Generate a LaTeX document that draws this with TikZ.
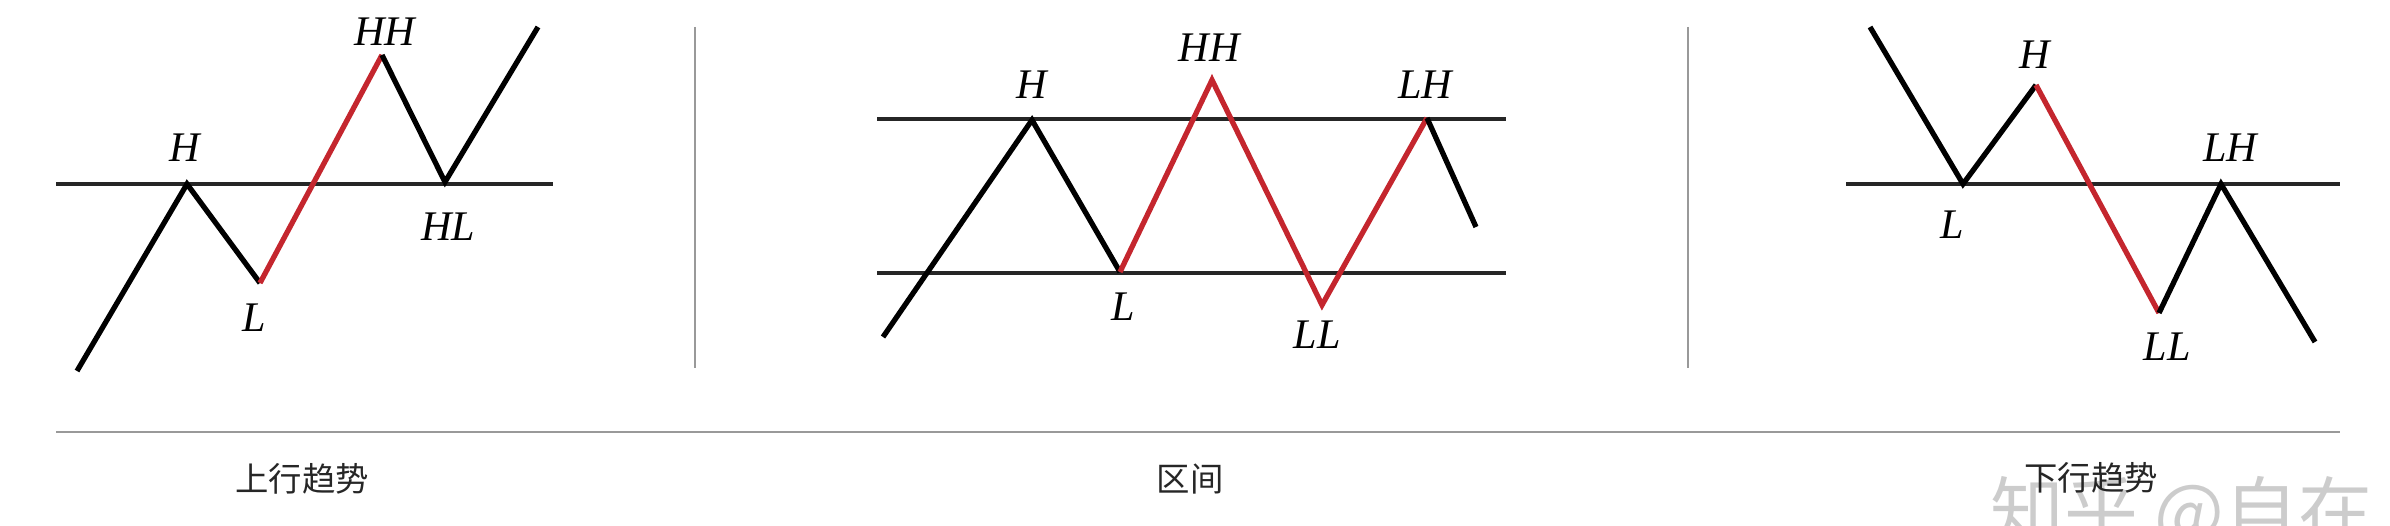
\documentclass[tikz,border=0pt]{standalone}
\usepackage{fontspec}
\newfontfamily\cjk{Noto Sans CJK SC}
\newfontfamily\labfont{Liberation Serif}
\definecolor{trendred}{HTML}{C4262E}
\begin{document}
\begin{tikzpicture}[x=0.02cm, y=-0.02cm,
    leg/.style={line width=3pt},
    redleg/.style={line width=3pt, draw=trendred},
    level/.style={line width=2pt, draw=black!85},
    sep/.style={line width=1.1pt, draw=black!40},
    lab/.style={font=\labfont\itshape\fontsize{24}{28}\selectfont},
    title/.style={font=\cjk\fontsize{19}{22}\selectfont, text=black!85}]
    \useasboundingbox (0,0) rectangle (2390,526);
    \clip (0,0) rectangle (2390,526);
    % watermark
    \node[anchor=west, inner sep=0, text=black!20, font=\cjk\fontsize{42}{46}\selectfont] (mark) at (1990,514) {知乎 @自在};
    % frame
    \coordinate (s1a) at (695,27); \coordinate (s1b) at (695,368);
    \coordinate (s2a) at (1688,27); \coordinate (s2b) at (1688,368);
    \coordinate (ba) at (56,432); \coordinate (bb) at (2340,432);
    \draw[sep] (s1a) -- (s1b);
    \draw[sep] (s2a) -- (s2b);
    \draw[sep] (ba) -- (bb);
    % uptrend
    \coordinate (ulA) at (56,184); \coordinate (ulB) at (553,184);
    \coordinate (u0) at (77,371); \coordinate (uH) at (187,184); \coordinate (uL) at (260,283);
    \coordinate (uHH) at (382,55); \coordinate (uHL) at (445,182); \coordinate (u5) at (538,27);
    \draw[level] (ulA) -- (ulB);
    \draw[leg] (u0) -- (uH) -- (uL);
    \draw[redleg] (uL) -- (uHH);
    \draw[leg] (uHH) -- (uHL) -- (u5);
    \node[lab] (uHt) at (185,148) {H};
    \node[lab] (uLt) at (254,318) {L};
    \node[lab] (uHHt) at (385,32) {HH};
    \node[lab] (uHLt) at (448,227) {HL};
    \node[title] (utitle) at (302,479) {上行趋势};
    % range
    \coordinate (rtA) at (877,119); \coordinate (rtB) at (1506,119);
    \coordinate (rbA) at (877,273); \coordinate (rbB) at (1506,273);
    \coordinate (r0) at (883,337); \coordinate (rH) at (1032,120); \coordinate (rL) at (1120,272);
    \coordinate (rHH) at (1212,80); \coordinate (rLL) at (1322,305); \coordinate (rLH) at (1427,118);
    \coordinate (r6) at (1476,227);
    \draw[level] (rtA) -- (rtB);
    \draw[level] (rbA) -- (rbB);
    \draw[leg] (r0) -- (rH) -- (rL);
    \draw[redleg] (rL) -- (rHH) -- (rLL) -- (rLH);
    \draw[leg] (rLH) -- (r6);
    \node[lab] (rHt) at (1032,85) {H};
    \node[lab] (rHHt) at (1209,48) {HH};
    \node[lab] (rLHt) at (1425,85) {LH};
    \node[lab] (rLt) at (1123,307) {L};
    \node[lab] (rLLt) at (1317,335) {LL};
    \node[title] (rtitle) at (1190,479) {区间};
    % downtrend
    \coordinate (dlA) at (1846,184); \coordinate (dlB) at (2340,184);
    \coordinate (d0) at (1870,27); \coordinate (dL) at (1963,184); \coordinate (dH) at (2036,85);
    \coordinate (dLL) at (2159,313); \coordinate (dLH) at (2221,184); \coordinate (d5) at (2315,342);
    \draw[level] (dlA) -- (dlB);
    \draw[leg] (d0) -- (dL) -- (dH);
    \draw[redleg] (dH) -- (dLL);
    \draw[leg] (dLL) -- (dLH) -- (d5);
    \node[lab] (dHt) at (2035,55) {H};
    \node[lab] (dLt) at (1952,225) {L};
    \node[lab] (dLHt) at (2230,148) {LH};
    \node[lab] (dLLt) at (2167,347) {LL};
    \node[title] (dtitle) at (2091,478) {下行趋势};
\end{tikzpicture}
\end{document}
